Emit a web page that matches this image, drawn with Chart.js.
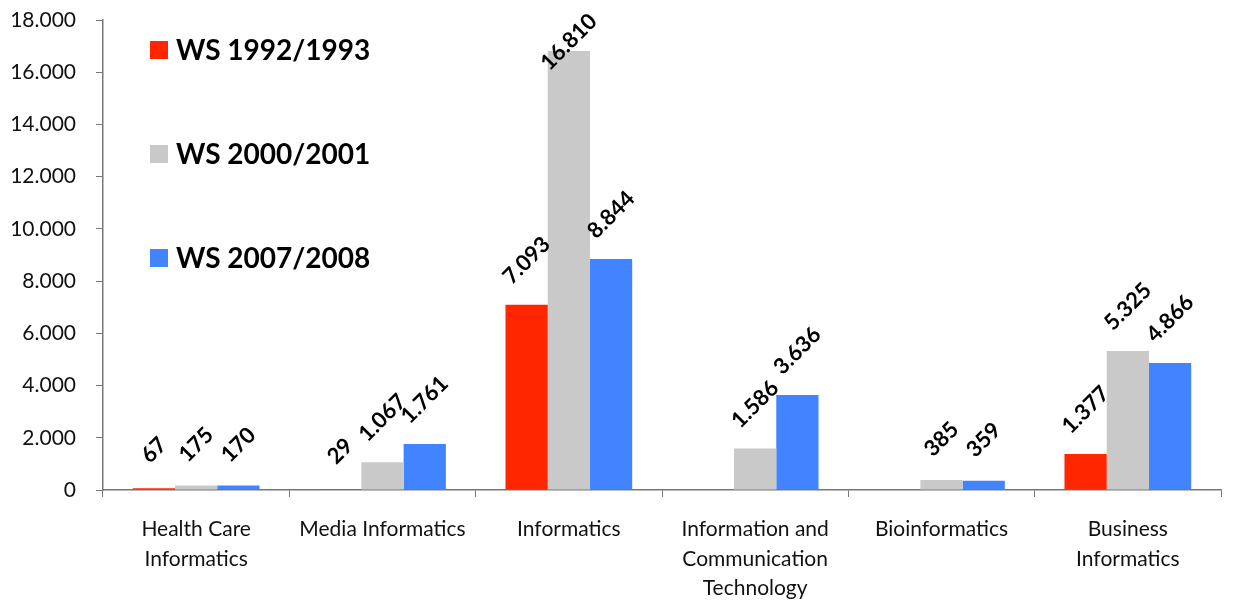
<!DOCTYPE html>
<html>
<head>
<meta charset="utf-8">
<script src="https://cdn.jsdelivr.net/npm/chart.js@4/dist/chart.umd.min.js"></script>
<style>
  html, body { margin: 0; padding: 0; background: #fff; }
  #wrap { width: 1244px; height: 602px; }
</style>
</head>
<body>
<div id="wrap"><canvas id="chart"></canvas></div>
<script>
const categories = [
  ["Health Care", "Informatics"],
  ["Media Informatics"],
  ["Informatics"],
  ["Information and", "Communication", "Technology"],
  ["Bioinformatics"],
  ["Business", "Informatics"]
];
const seriesNames = ["WS 1992/1993", "WS 2000/2001", "WS 2007/2008"];
const ws1992 = [67, 29, 7093, null, null, 1377];
const ws2000 = [175, 1067, 16810, 1586, 385, 5325];
const ws2007 = [170, 1761, 8844, 3636, 359, 4866];
const colors = ["#ff2600", "#c9c9c9", "#4283ff"];

const fmt = v => String(v).replace(/\B(?=(\d{3})+(?!\d))/g, ".");
const FONT = "Lato, 'Open Sans', sans-serif";

// rotated value labels above each bar
const valueLabels = {
  id: "valueLabels",
  afterDatasetsDraw(chart) {
    const ctx = chart.ctx;
    ctx.save();
    ctx.font = "bold 22px " + FONT;
    ctx.fillStyle = "#000";
    ctx.textAlign = "center";
    ctx.textBaseline = "middle";
    chart.data.datasets.forEach((ds, i) => {
      chart.getDatasetMeta(i).data.forEach((bar, j) => {
        const v = ds.data[j];
        if (v == null) return;
        const txt = fmt(v);
        const w = ctx.measureText(txt).width;
        const half = (w * Math.SQRT1_2 + 22 * Math.SQRT1_2) / 2;
        let cy = bar.y - 33 - 0.2 * w;
        if (cy - half < 10) cy = 10 + half;
        ctx.save();
        ctx.translate(bar.x, cy);
        ctx.rotate(-Math.PI / 4);
        ctx.fillText(txt, 0, 0);
        ctx.restore();
      });
    });
    ctx.restore();
  }
};

// legend drawn as a spaced column inside the plot
const sideLegend = {
  id: "sideLegend",
  afterDraw(chart) {
    const ctx = chart.ctx;
    const a = chart.chartArea;
    ctx.save();
    ctx.font = "bold 28px " + FONT;
    ctx.textBaseline = "middle";
    ctx.textAlign = "left";
    chart.data.datasets.forEach((ds, i) => {
      const y = a.top + 30 + i * 104;
      ctx.fillStyle = ds.backgroundColor;
      ctx.fillRect(a.left + 47, y - 9, 18, 18);
      ctx.fillStyle = "#000";
      ctx.fillText(ds.label, a.left + 73, y + 1);
    });
    ctx.restore();
  }
};

new Chart(document.getElementById("chart"), {
  type: "bar",
  data: {
    labels: categories,
    datasets: [
      { label: seriesNames[0], data: ws1992, backgroundColor: colors[0] },
      { label: seriesNames[1], data: ws2000, backgroundColor: colors[1] },
      { label: seriesNames[2], data: ws2007, backgroundColor: colors[2] }
    ]
  },
  options: {
    responsive: true,
    maintainAspectRatio: false,
    animation: false,
    layout: { padding: { top: 20, right: 23, left: 0, bottom: 0 } },
    datasets: { bar: { categoryPercentage: 0.68, barPercentage: 1.0 } },
    plugins: { legend: { display: false }, tooltip: { enabled: false } },
    scales: {
      x: {
        grid: { drawOnChartArea: false, tickLength: 7, color: "#777" },
        border: { color: "#777", width: 1.5 },
        ticks: { color: "#111", font: { family: FONT, size: 21, lineHeight: 1.4 }, padding: 18, maxRotation: 0, autoSkip: false },
        afterFit: s => { s.height = 112; s.paddingLeft = 0; s.paddingRight = 0; }
      },
      y: {
        min: 0, max: 18000,
        grid: { drawOnChartArea: false, tickLength: 7, color: "#777" },
        border: { color: "#777", width: 1.5 },
        ticks: { stepSize: 2000, color: "#111", font: { family: FONT, size: 21 }, padding: 20, callback: v => fmt(v) },
        afterFit: s => { s.width = 103; s.paddingTop = 0; s.paddingBottom = 0; }
      }
    }
  },
  plugins: [valueLabels, sideLegend]
});
</script>
</body>
</html>
